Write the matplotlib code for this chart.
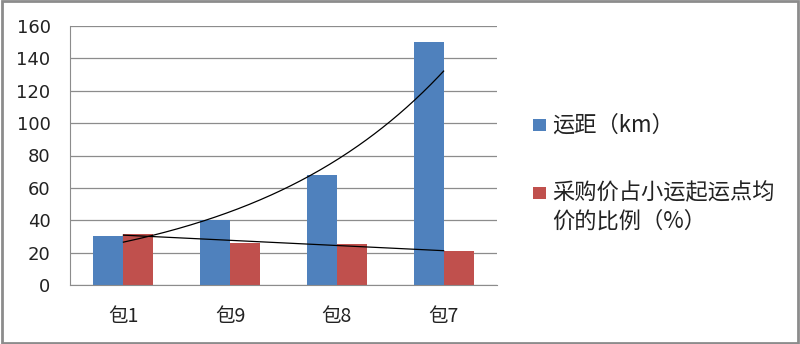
import numpy as np
import matplotlib
matplotlib.use("Agg")
import matplotlib.pyplot as plt
from matplotlib.patches import Rectangle

plt.rcParams['font.family'] = ['Noto Sans CJK SC', 'DejaVu Sans']

categories = ['包1', '包9', '包8', '包7']
distance = [30, 40, 68, 150]
ratio = [31.5, 26, 25.5, 21]
series_names = ['运距（km）', '采购价占小运起运点均', '价的比例（%）']
blue = '#4F81BD'
red = '#C0504D'

W, H = 800, 344
fig = plt.figure(figsize=(W / 100, H / 100), dpi=100)
ax = fig.add_axes([70 / W, 1 - 285 / H, 427 / W, 259 / H])

x = np.arange(len(categories))
w = 0.28
ax.bar(x - w/2, distance, w, color=blue, zorder=2)
ax.bar(x + w/2, ratio, w, color=red, zorder=2)

# trendlines: exponential for distance, linear for ratio
xi = np.arange(1, len(categories) + 1)
xs = np.linspace(1, len(categories), 200)
k, c = np.polyfit(xi, np.log(distance), 1)
ax.plot(xs - 1, np.exp(c + k * xs), color='black', lw=0.9, zorder=3)
m, q = np.polyfit(xi, ratio, 1)
ax.plot(xs - 1, q + m * xs, color='black', lw=0.9, zorder=3)

ax.set_xlim(-0.5, len(categories) - 0.5)
ax.set_ylim(0, 160)
ax.set_yticks(np.arange(0, 161, 20))
ax.yaxis.grid(True, color='#8c8c8c', lw=0.9, zorder=0)
ax.set_axisbelow(True)
ax.set_xticks(x)
ax.set_xticklabels(categories, fontsize=14)
ax.tick_params(axis='y', labelsize=13, length=0, pad=14)
for lab in ax.get_yticklabels():
    lab.set_family(['DejaVu Sans'])
    lab.set_color('#222222')
ax.tick_params(axis='x', length=0, pad=15, labelcolor='#222222')
for s in ['top', 'right']:
    ax.spines[s].set_visible(False)
ax.spines['left'].set_color('#8c8c8c')
ax.spines['bottom'].set_color('#8c8c8c')

# legend drawn in figure pixel coordinates
def px(xp, yp):
    return xp / W, 1 - yp / H

for color, yc in [(blue, 125), (red, 192.5)]:
    x0, y0 = px(533, yc + 6)
    fig.patches.append(Rectangle((x0, y0), 13 / W, 12 / H, transform=fig.transFigure,
                                 facecolor=color, edgecolor='none'))
for label, yc in zip(series_names, [125, 192.5, 221]):
    tx, ty = px(552, yc)
    fig.text(tx, ty, label, fontsize=16, va='center', ha='left', color='#222222')

fig.patches.append(Rectangle((0.002, 0.003), 0.996, 0.994, transform=fig.transFigure,
                             fill=False, edgecolor='#8c8c8c', lw=2))

fig.savefig('out.png', dpi=100, facecolor='white')
